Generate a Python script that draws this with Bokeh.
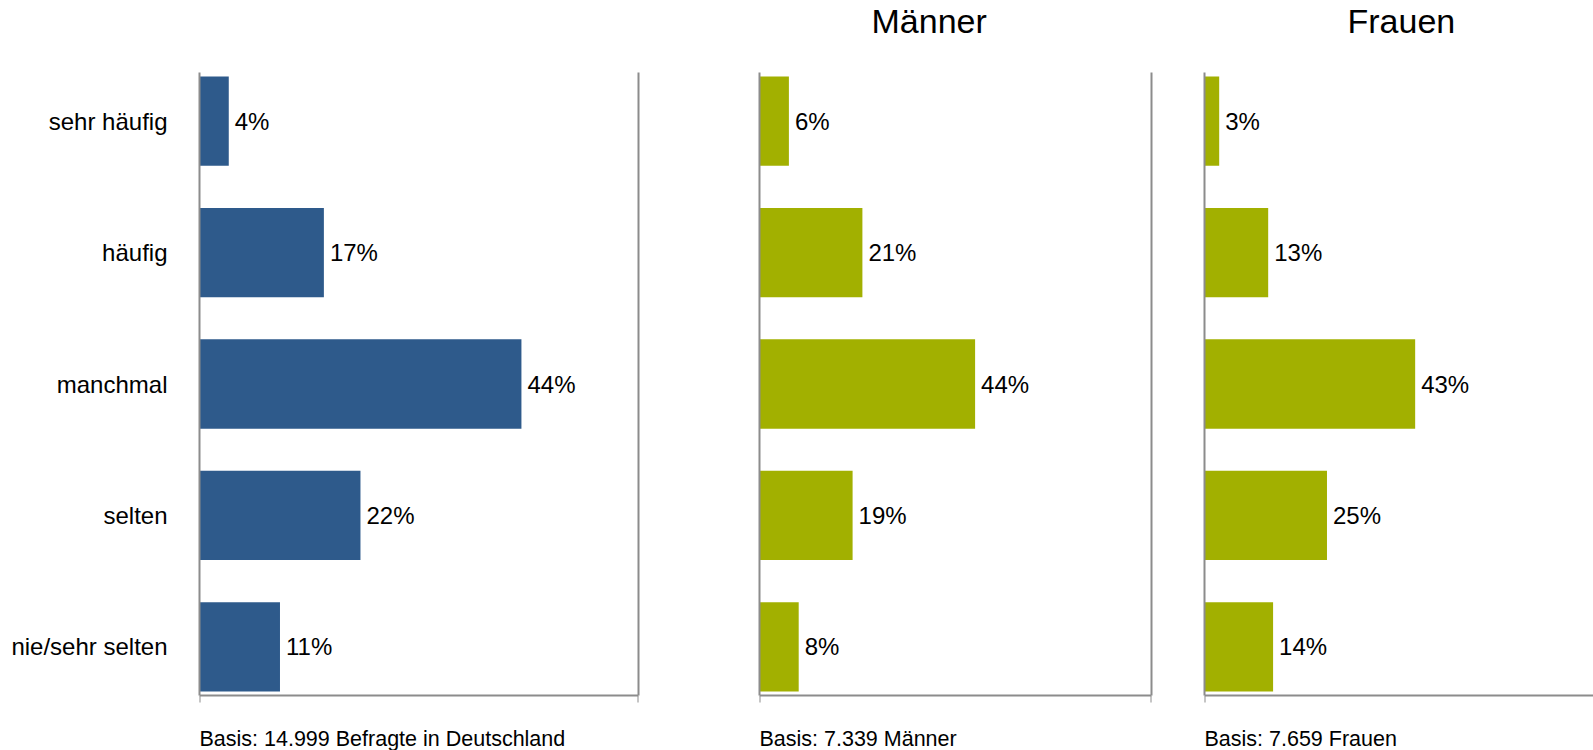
from bokeh.plotting import figure
from bokeh.models import Range1d, FixedTicker, LinearAxis, ColumnDataSource
from bokeh.layouts import row
from bokeh.embed import file_html
from bokeh.resources import INLINE
from bokeh.core.properties import value

# ---- data ----
categories = ["sehr häufig", "häufig", "manchmal", "selten", "nie/sehr selten"]
gesamt = [4, 17, 44, 22, 11]
maenner = [6, 21, 44, 19, 8]
frauen = [3, 13, 43, 25, 14]
panel_titles = ["", "Männer", "Frauen"]
basis_texts = ["Basis: 14.999 Befragte in Deutschland", "Basis: 7.339 Männer", "Basis: 7.659 Frauen"]

FONT = "Liberation Sans"
AXIS_COLOR = "#8C8C8C"
BLUE = "#2E5A8B"
GREEN = "#A2B000"

HEIGHT = 750
AXIS_TOP_PX = 72
AXIS_BOT_PX = 695


def style_line_axis(ax):
    ax.axis_line_color = AXIS_COLOR
    ax.axis_line_width = 2
    ax.major_tick_line_color = None
    ax.minor_tick_line_color = None


def make_panel(vals, color, title, basis, width, x_end, b_left, b_right,
               show_cats, right_line, xticks, title_offset):
    n = len(categories)
    ys = list(range(n))
    y_axis_top = -0.37
    y_axis_bot = n - 1 + 0.37
    ppu = (AXIS_BOT_PX - AXIS_TOP_PX) / (y_axis_bot - y_axis_top)
    y_start = y_axis_bot + (HEIGHT - AXIS_BOT_PX) / ppu
    y_end = y_axis_top - AXIS_TOP_PX / ppu

    src = ColumnDataSource(dict(y=ys, v=vals, lab=[f"{v}%" for v in vals]))
    p = figure(width=width, height=HEIGHT,
               x_range=Range1d(0, x_end), y_range=Range1d(y_start, y_end),
               output_backend="svg", toolbar_location=None,
               min_border=0, min_border_left=b_left, min_border_right=b_right,
               x_axis_location=None, y_axis_location=None)
    p.outline_line_color = None
    p.xgrid.visible = False
    p.ygrid.visible = False
    p.background_fill_color = "white"
    p.border_fill_color = "white"

    p.hbar(y="y", left=0, right="v", height=0.68, source=src,
           fill_color=color, line_color=None)
    p.text(x="v", y="y", text="lab", source=src, x_offset=6,
           text_baseline="middle", text_align="left",
           text_font=value(FONT), text_font_size="24px", text_color="black")

    # left (category) axis, line limited to the plot area
    ya = LinearAxis(bounds=(y_axis_top, y_axis_bot))
    style_line_axis(ya)
    if show_cats:
        ya.ticker = FixedTicker(ticks=ys)
        ya.major_label_overrides = {i: c for i, c in enumerate(categories)}
        ya.major_label_text_font = FONT
        ya.major_label_text_font_size = "24px"
        ya.major_label_text_color = "black"
        ya.major_label_standoff = 26
    else:
        ya.ticker = FixedTicker(ticks=[])
    p.add_layout(ya, "left")

    # bottom value axis: line + small end ticks, no labels
    xa = LinearAxis(bounds=(0, x_end), fixed_location=y_axis_bot,
                    ticker=FixedTicker(ticks=[], minor_ticks=xticks))
    style_line_axis(xa)
    xa.minor_tick_line_color = AXIS_COLOR
    xa.minor_tick_line_width = 2
    xa.minor_tick_out = 7
    xa.minor_tick_in = 0
    p.add_layout(xa, "below")

    if right_line:
        ra = LinearAxis(bounds=(y_axis_top, y_axis_bot),
                        ticker=FixedTicker(ticks=[]))
        style_line_axis(ra)
        p.add_layout(ra, "right")

    if title:
        p.text(x=[0], y=[y_axis_top], text=[title], x_offset=title_offset,
               y_offset=-52, text_font=value(FONT), text_font_size="34px",
               text_color="black", text_align="left",
               text_baseline="alphabetic")

    p.text(x=[0], y=[y_axis_bot], text=[basis], x_offset=0, y_offset=43,
           text_font=value(FONT), text_font_size="21.5px",
           text_color="black", text_align="left", text_baseline="alphabetic")
    return p


p1 = make_panel(gesamt, BLUE, panel_titles[0], basis_texts[0], 700, 60,
                199, 62, True, True, [0, 60], 0)
p2 = make_panel(maenner, GREEN, panel_titles[1], basis_texts[1], 480, 80,
                59, 29, False, True, [0, 80], 112)
p3 = make_panel(frauen, GREEN, panel_titles[2], basis_texts[2], 413, 79.4,
                24, 0, False, False, [0], 143)

layout = row(p1, p2, p3)
open("out.html", "w").write(file_html(layout, INLINE))
